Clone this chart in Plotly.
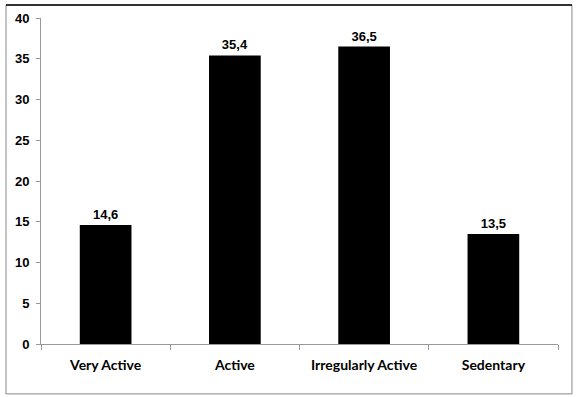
import plotly.graph_objects as go

categories = ["Very Active", "Active", "Irregularly Active", "Sedentary"]
values = [14.6, 35.4, 36.5, 13.5]
value_labels = ["14,6", "35,4", "36,5", "13,5"]
y_ticks = [0, 5, 10, 15, 20, 25, 30, 35, 40]

fig = go.Figure(
    go.Bar(
        x=categories,
        y=values,
        text=value_labels,
        textposition="outside",
        cliponaxis=False,
        textfont=dict(family="Liberation Sans", size=13, color="black", weight="bold"),
        marker=dict(color="black", line=dict(width=0)),
        width=0.4,
    )
)

fig.update_layout(
    width=577,
    height=397,
    margin=dict(l=41, r=19, t=18, b=53, autoexpand=False),
    paper_bgcolor="white",
    plot_bgcolor="white",
    showlegend=False,
    xaxis=dict(
        showline=True,
        linecolor="#999999",
        linewidth=1,
        ticks="outside",
        tickson="boundaries",
        ticklen=5,
        tickcolor="#999999",
        ticklabelstandoff=8,
        tickfont=dict(family="Lato", size=14, color="black", weight="bold"),
        showgrid=False,
    ),
    yaxis=dict(
        range=[0, 40],
        tickvals=y_ticks,
        showline=True,
        linecolor="#999999",
        linewidth=1,
        ticks="outside",
        ticklen=4,
        tickcolor="#999999",
        ticklabelstandoff=4,
        tickfont=dict(family="Liberation Sans", size=13, color="black", weight="bold"),
        showgrid=False,
        zeroline=False,
    ),
    shapes=[
        dict(type="rect", xref="paper", yref="paper",
             x0=-0.0677, x1=1.027, y0=-0.153, y1=1.0399,
             line=dict(color="#888888", width=1), layer="below"),
        dict(type="line", xref="paper", yref="paper",
             x0=-0.0677, x1=1.027, y0=1.0399, y1=1.0399,
             line=dict(color="black", width=1.5)),
    ],
)

fig.write_html(
    "out.html",
    config={"displayModeBar": False},
    post_script="document.body.style.margin='0px';",
)
